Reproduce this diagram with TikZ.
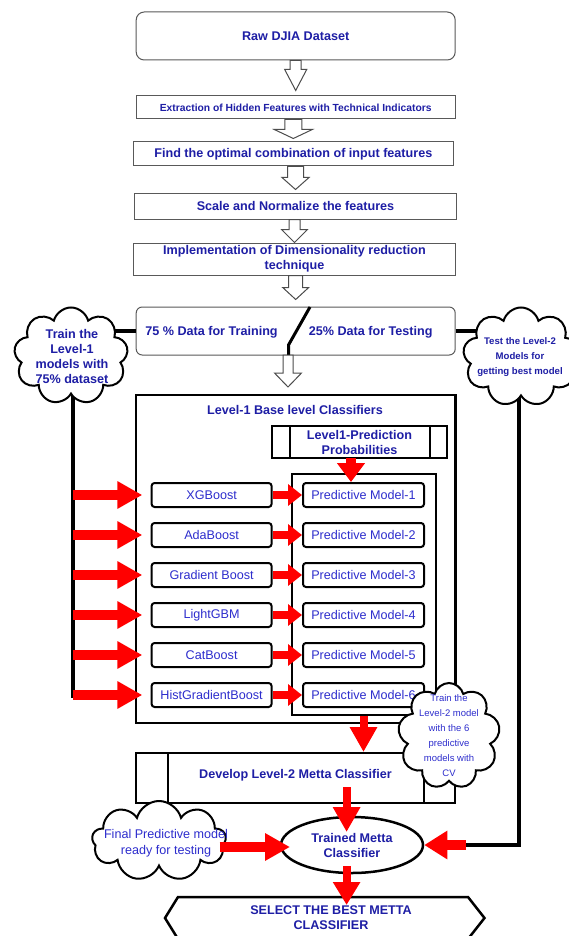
\documentclass[tikz,border=0pt]{standalone}
\usepackage{fontspec}
\setmainfont{Liberation Sans}
\usetikzlibrary{shapes.symbols,shapes.geometric,arrows.meta,calc}
\definecolor{tblue}{RGB}{30,30,165}
\definecolor{nblue}{RGB}{45,45,205}
\newcommand\hollowdown[5]{%
  \draw[hollowarr] let \p1=#1, \p2=#2 in
    (\x2-#3,\y1) -- (\x2-#3,\y2+#5) -- (\x2-#4,\y2+#5) -- (\x2,\y2)
    -- (\x2+#4,\y2+#5) -- (\x2+#3,\y2+#5) -- (\x2+#3,\y1) -- cycle;}
\begin{document}
\begin{tikzpicture}[x=1pt,y=-1pt,
  bfont/.style={font=\bfseries\fontsize{12.6}{15}\selectfont},
  nfont/.style={font=\fontsize{12.6}{15}\selectfont},
  procbox/.style={draw=black!65, line width=1pt, fill=white, text=tblue, bfont, align=center, inner sep=0pt, minimum width=319pt},
  heavybox/.style={draw=black, line width=2.5pt, inner sep=0pt},
  clsbox/.style={draw=black, line width=2pt, rounded corners=3pt, minimum height=24pt, text=nblue, nfont, inner sep=0pt, fill=white},
  hollowarr/.style={draw=black!70, line width=1pt, fill=white},
  thickline/.style={draw=black, line width=4pt},
  bigred/.style={draw=red, line width=10pt, -{Triangle[width=26pt,length=25pt]}},
  smallred/.style={draw=red, line width=8pt, -{Triangle[width=21pt,length=14pt]}},
  vred/.style={draw=red, line width=8pt, -{Triangle[width=26pt,length=25pt]}},
  cloudsh/.style={cloud, cloud puffs=9, cloud ignores aspect, draw=black, line width=2pt, fill=white, inner sep=0pt},
  ctext/.style={text=tblue, align=center, inner sep=0pt}
]
\useasboundingbox (0,0) rectangle (569,936);
\fill[white] (0,0) rectangle (569,936);

% --- top process chain ---
\node[procbox, rounded corners=8pt, minimum height=48pt] (raw) at (295.7,36) {Raw DJIA Dataset};
\node[procbox, minimum height=23pt, font=\bfseries\fontsize{10.3}{12}\selectfont] (ext) at (295.7,107.5) {Extraction of Hidden Features with Technical Indicators};
\node[procbox, minimum height=24pt, minimum width=319.5pt] (find) at (293.3,154) {Find the optimal combination of input features};
\node[procbox, minimum height=26pt, minimum width=322pt] (scale) at (295.5,206) {Scale and Normalize the features};
\node[procbox, minimum height=32pt, minimum width=322pt] (impl) at (294.5,259) {Implementation of Dimensionality reduction\\technique};
\node[procbox, rounded corners=6pt, minimum height=48pt] (split) at (295.7,331) {};
\node[text=tblue, bfont, inner sep=0pt] (train) at (211.5,332) {75 \% Data for Training};
\node[text=tblue, bfont, inner sep=0pt] (test) at (370.7,332) {25\% Data for Testing};

\coordinate (slashtop) at (310,307);
\coordinate (slashmid) at (288.5,345);
\coordinate (slashbot) at (288.5,355);
\draw[line width=3pt] (slashtop) -- (slashmid) -- (slashbot);

\hollowdown{(raw.south)}{($(ext.north)+(0,-5)$)}{5.5pt}{11pt}{21pt}
\hollowdown{(ext.south)}{($(find.north)+(0,-3)$)}{8.5pt}{19pt}{9pt}
\hollowdown{(find.south)}{($(scale.north)+(0,-3)$)}{8pt}{13.5pt}{12pt}
\hollowdown{(scale.south)}{(impl.north)}{5.5pt}{13pt}{13pt}
\hollowdown{(impl.south)}{($(split.north)+(0,-7)$)}{7pt}{13pt}{12pt}
\coordinate (a6tip) at (288,387);
\hollowdown{(slashbot)}{(a6tip)}{5pt}{13.5pt}{14pt}

% --- side lines ---
\coordinate (ltop) at (72.6,390);
\coordinate (lbot) at (72.6,698);
\coordinate (rtop) at (519,390);
\coordinate (rcorner) at (519,845);
\coordinate (rend) at (466,845);
\draw[thickline] (split.west) -- ++(-25,0);
\draw[thickline] (split.east) -- ++(25,0);
\draw[thickline] (ltop) -- (lbot);
\draw[thickline] (rtop) -- (rcorner) -- (rend);

% --- clouds top ---
\node[cloudsh, minimum width=114pt, minimum height=97pt] (lcloud) at (71,356) {};
\node[ctext, bfont] at (72,356) {Train the\\Level-1\\models with\\75\% dataset};
\node[cloudsh, minimum width=116pt, minimum height=99pt] (rcloud) at (521,357) {};
\node[ctext, font=\bfseries\fontsize{9.6}{15}\selectfont] at (520,357) {Test the Level-2\\Models for\\getting best model};

% --- level-1 block ---
\node[heavybox, minimum width=319.5pt, minimum height=328pt] (l1) at (295.7,559) {};
\node[text=tblue, bfont, inner sep=0pt] (l1title) at (295,410) {Level-1 Base level Classifiers};
\node[heavybox, line width=2pt, minimum width=175pt, minimum height=32pt] (prob) at (359.5,442) {};
\draw[line width=2pt] (290,426) -- (290,458) (430,426) -- (430,458);
\node[text=tblue, bfont, align=center, inner sep=0pt] at (prob.center) {Level1-Prediction\\Probabilities};
\node[heavybox, line width=2pt, minimum width=144pt, minimum height=241pt] (inner) at (363.5,594.5) {};

\foreach \i/\name/\yy in {1/XGBoost/495, 2/AdaBoost/535, 3/Gradient Boost/575, 4/LightGBM/615, 5/CatBoost/655, 6/HistGradientBoost/695}{
  \node[clsbox, minimum width=120pt] (c\i) at (211.6,\yy) {\name};
  \node[clsbox, minimum width=121pt] (m\i) at (363.5,\yy) {Predictive Model-\i};
  \draw[bigred] (ltop |- c\i.west) -- ($(c\i.west)+(-8.3,0)$);
  \draw[smallred] (c\i.east) -- (m\i.west);
}
\coordinate (pa1) at (351,458);
\coordinate (pa2) at (351,482);
\draw[draw=red, line width=10pt, -{Triangle[width=27pt,length=19pt]}] (pa1) -- (pa2);

% --- level-2 ---
\node[heavybox, line width=2pt, minimum width=319.5pt, minimum height=50pt] (dev) at (295.7,778) {};
\draw[line width=2pt] (167.7,753) -- (167.7,803) (424,753) -- (424,803);
\node[text=tblue, bfont, inner sep=0pt] at (295.5,775) {Develop Level-2 Metta Classifier};
\draw[vred] (inner.south) -- (inner.south |- dev.north);

\node[cloudsh, minimum width=102pt, minimum height=106pt] (bcloud) at (449,736) {};
\node[ctext, text=nblue, font=\fontsize{9.5}{15}\selectfont] at (bcloud.center) {Train the\\Level-2 model\\with the 6\\predictive\\models with\\CV};

\node[draw=black, line width=2.5pt, ellipse, minimum width=142pt, minimum height=56pt, inner sep=0pt, fill=white] (ell) at (352,845) {};
\node[ctext, bfont] at (ell.center) {Trained Metta\\Classifier};
\coordinate (d1) at (346.6,787);
\coordinate (d2) at (346.6,832);
\draw[vred] (d1) -- (d2);

\node[cloudsh, minimum width=134pt, minimum height=80pt] (fcloud) at (159,841) {};
\node[ctext, text=nblue, font=\fontsize{12.6}{16}\selectfont] at (166,843) {Final Predictive model\\ready for testing};
\coordinate (f1) at (219.6,847);
\coordinate (f2) at (290,847);
\draw[bigred] (f1) -- (f2);
\draw[bigred, -{Triangle[width=27pt,length=23pt]}] (rend) -- (ell.east);

% --- final hexagon ---
\draw[line width=2.5pt, fill=white] (165,918) -- (178,897) -- (468,897) -- (484.5,918) -- (468,939) -- (178,939) -- cycle;
\node[ctext, bfont] (sel) at (331,918) {SELECT THE BEST METTA\\CLASSIFIER};
\coordinate (e1) at (346.6,866);
\coordinate (e2) at (346.6,905);
\draw[vred, -{Triangle[width=26pt,length=23pt]}] (e1) -- (e2);
\end{tikzpicture}
\end{document}
